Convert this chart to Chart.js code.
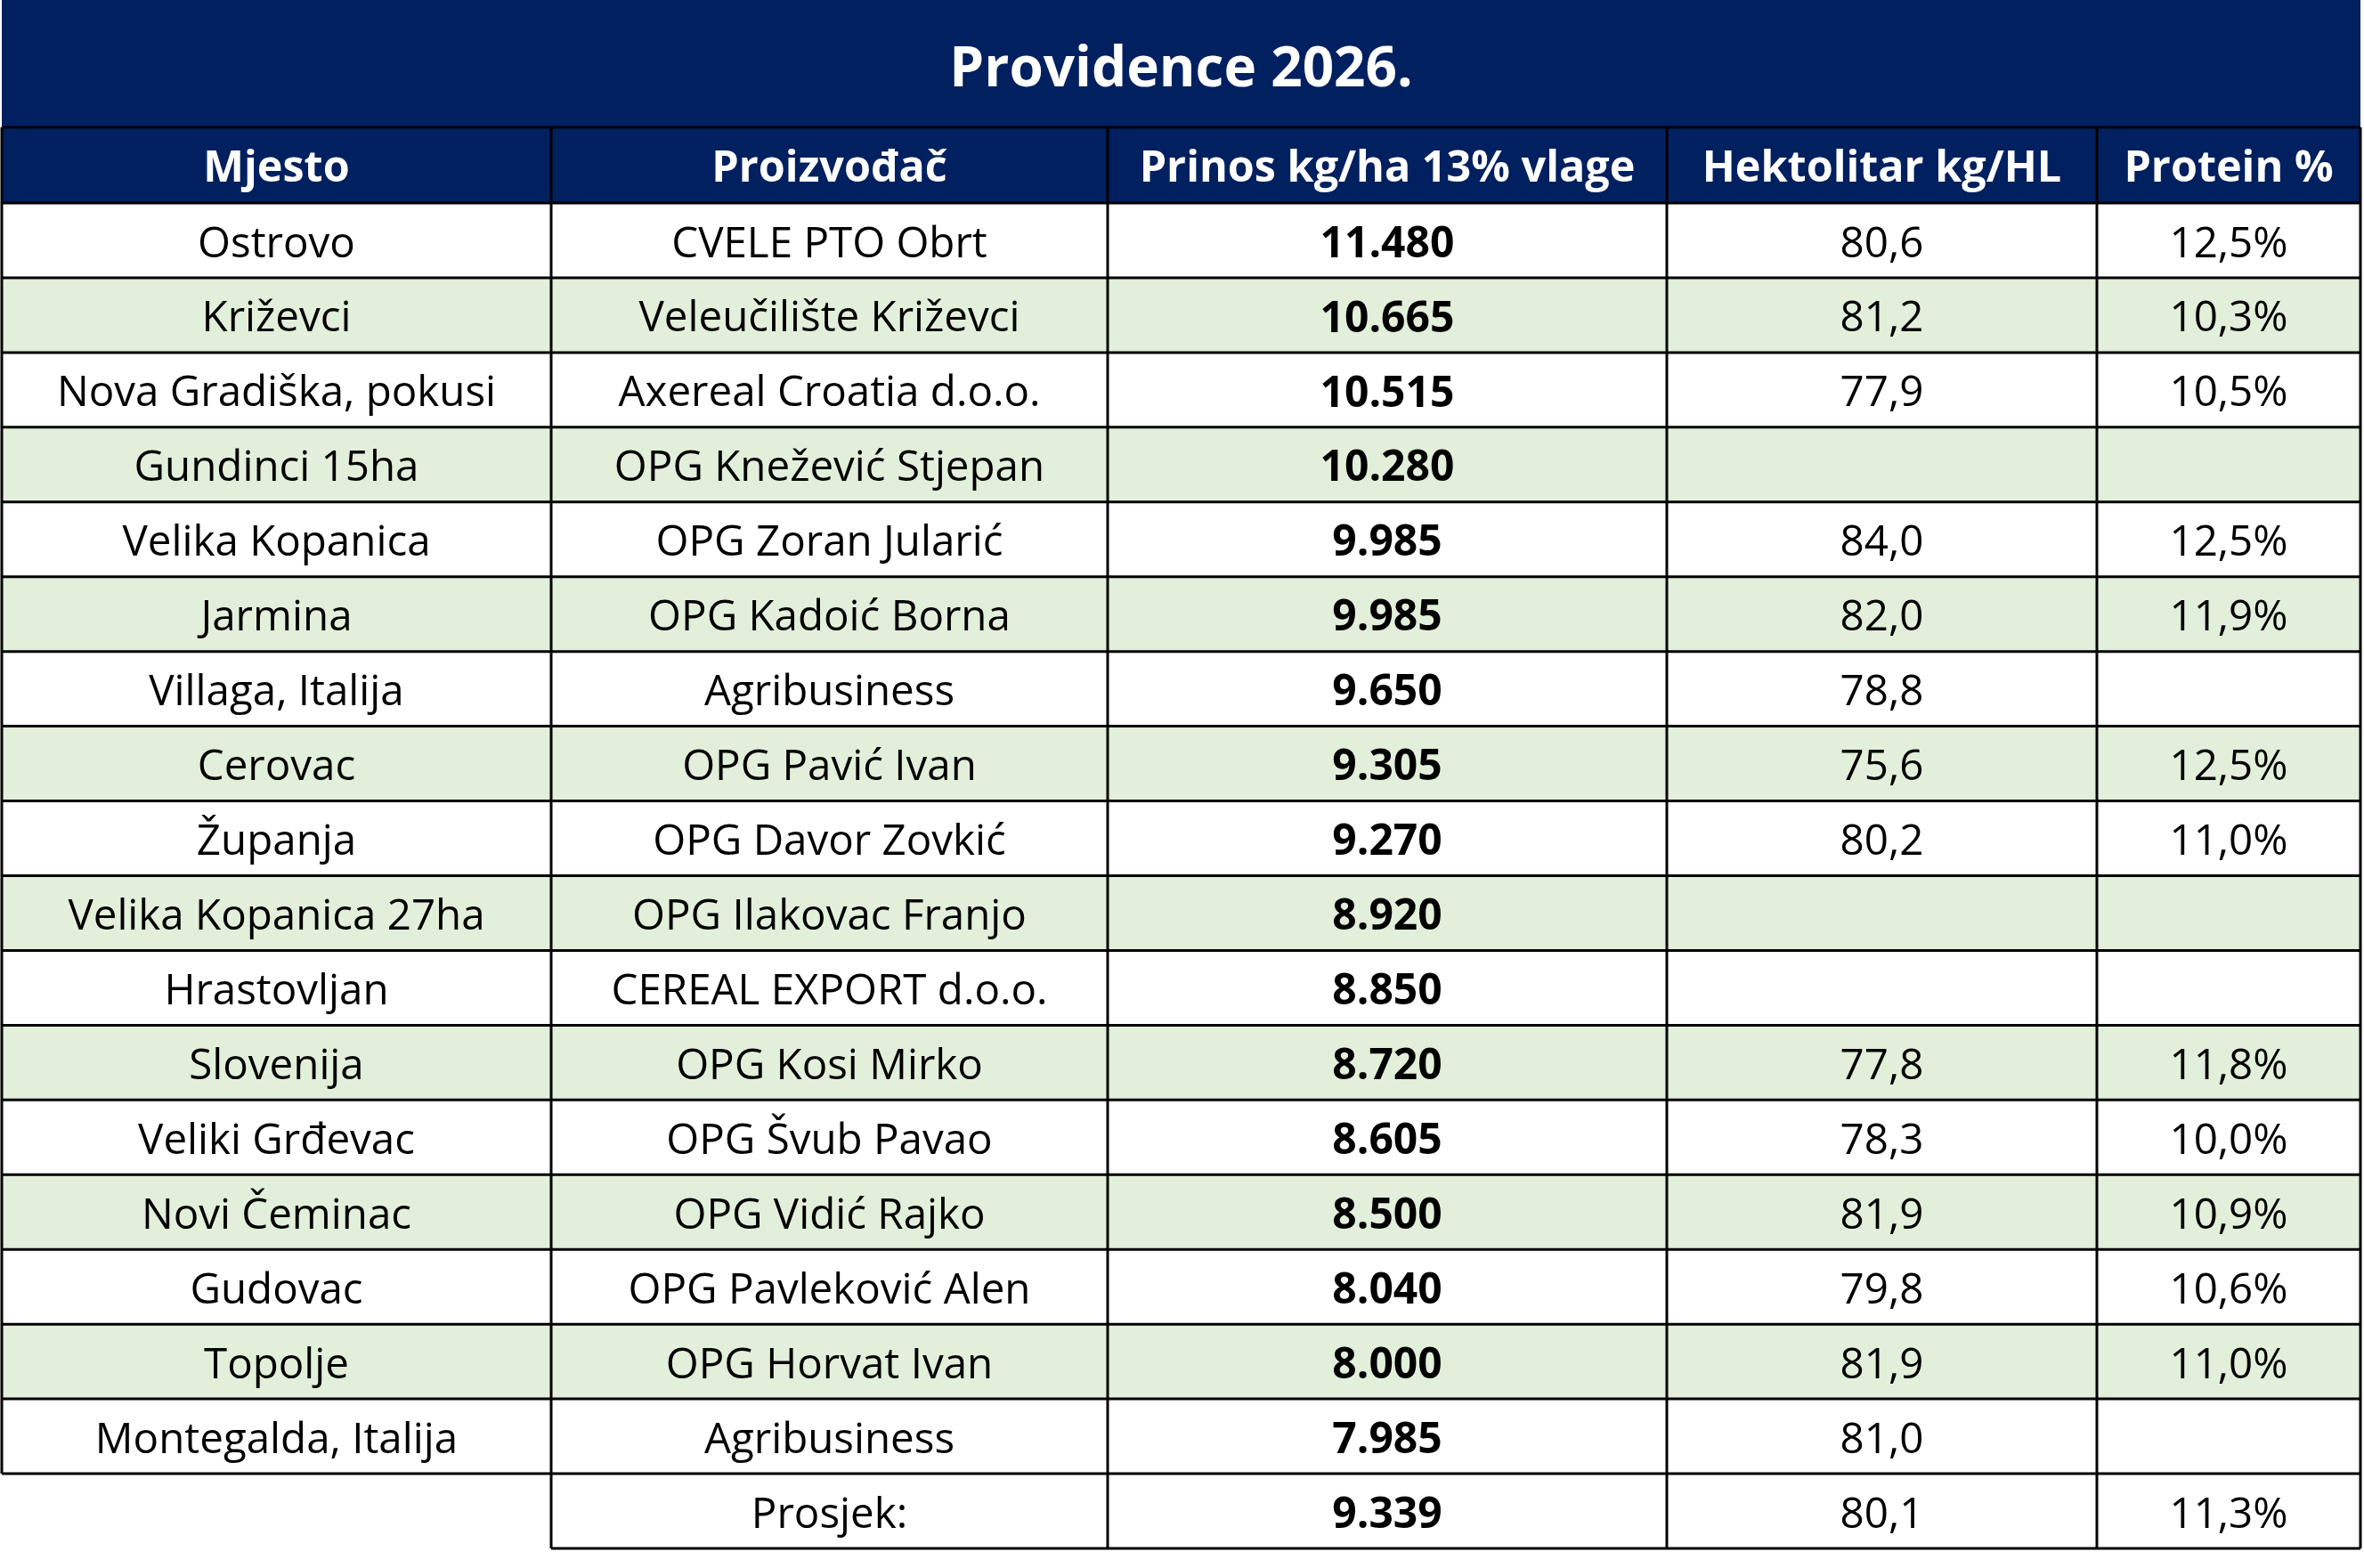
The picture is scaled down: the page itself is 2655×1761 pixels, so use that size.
<!DOCTYPE html>
<html>
<head>
<meta charset="utf-8">
<script src="https://cdn.jsdelivr.net/npm/chart.js@4.4.1/dist/chart.umd.min.js"></script>
<style>
  html, body { margin: 0; padding: 0; background: #ffffff; }
  canvas { display: block; }
</style>
</head>
<body>
<canvas id="table" width="2655" height="1761"></canvas>
<script>
const tableTitle = "Providence 2026.";
const columnHeaders = ["Mjesto", "Proizvođač", "Prinos kg/ha 13% vlage", "Hektolitar kg/HL", "Protein %"];
const places = [
  "Ostrovo", "Križevci", "Nova Gradiška, pokusi", "Gundinci 15ha", "Velika Kopanica",
  "Jarmina", "Villaga, Italija", "Cerovac", "Županja", "Velika Kopanica 27ha",
  "Hrastovljan", "Slovenija", "Veliki Grđevac", "Novi Čeminac", "Gudovac",
  "Topolje", "Montegalda, Italija"
];
const producers = [
  "CVELE PTO Obrt", "Veleučilište Križevci", "Axereal Croatia d.o.o.", "OPG Knežević Stjepan", "OPG Zoran Jularić",
  "OPG Kadoić Borna", "Agribusiness", "OPG Pavić Ivan", "OPG Davor Zovkić", "OPG Ilakovac Franjo",
  "CEREAL EXPORT d.o.o.", "OPG Kosi Mirko", "OPG Švub Pavao", "OPG Vidić Rajko", "OPG Pavleković Alen",
  "OPG Horvat Ivan", "Agribusiness"
];
const yields = [11480, 10665, 10515, 10280, 9985, 9985, 9650, 9305, 9270, 8920, 8850, 8720, 8605, 8500, 8040, 8000, 7985];
const hectoliter = [80.6, 81.2, 77.9, null, 84.0, 82.0, 78.8, 75.6, 80.2, null, null, 77.8, 78.3, 81.9, 79.8, 81.9, 81.0];
const protein = [12.5, 10.3, 10.5, null, 12.5, 11.9, null, 12.5, 11.0, null, null, 11.8, 10.0, 10.9, 10.6, 11.0, null];
const averageLabel = "Prosjek:";
const averageRow = [9339, 80.1, 11.3];

// Layout (x scale units = canvas px)
const colEdges = [2, 619, 1244, 1872, 2355, 2651];
const titleBottom = 143;
const headerBottom = 228;
const tableBottom = 1739;

const NAVY = "#002060";
const GREEN = "#E2EFDA";
const FONT = "'Open Sans', 'Noto Sans', sans-serif";

const fmtYield = (v) => v == null ? "" : v.toLocaleString("de-DE");
const fmtHl = (v) => v == null ? "" : v.toFixed(1).replace(".", ",");
const fmtPct = (v) => v == null ? "" : v.toFixed(1).replace(".", ",") + "%";

const rowLabels = places.concat([""]);

const tablePlugin = {
  id: "tableCells",
  afterDraw(chart) {
    const { ctx } = chart;
    const x = chart.scales.x;
    const y = chart.scales.y;
    const band = y.getPixelForValue(1) - y.getPixelForValue(0);
    const xe = colEdges.map((v) => x.getPixelForValue(v));
    const rowTop = (i) => y.getPixelForValue(i) - band / 2;
    const rowBottom = (i) => y.getPixelForValue(i) + band / 2;
    const colCenter = (c) => (xe[c] + xe[c + 1]) / 2;
    const top = y.getPixelForValue(-0.5) - (headerBottom - titleBottom);

    ctx.save();

    // title bar
    ctx.fillStyle = NAVY;
    ctx.fillRect(xe[0], 0, xe[5] - xe[0], top);
    ctx.fillStyle = "#ffffff";
    ctx.font = `bold 62px ${FONT}`;
    ctx.textAlign = "center";
    ctx.textBaseline = "middle";
    ctx.fillText(tableTitle, (xe[0] + xe[5]) / 2, top / 2 + 8);

    // header row
    const hTop = top;
    const hBottom = rowTop(0);
    ctx.fillStyle = NAVY;
    ctx.fillRect(xe[0], hTop, xe[5] - xe[0], hBottom - hTop);
    ctx.fillStyle = "#ffffff";
    ctx.font = `bold 48.5px ${FONT}`;
    columnHeaders.forEach((h, c) => ctx.fillText(h, colCenter(c), (hTop + hBottom) / 2 + 5));

    // data rows backgrounds
    places.forEach((_, i) => {
      if (i % 2 === 1) {
        ctx.fillStyle = GREEN;
        ctx.fillRect(xe[0], rowTop(i), xe[5] - xe[0], band);
      }
    });

    // data text
    places.forEach((p, i) => {
      const cy = y.getPixelForValue(i) + 5;
      const cells = [p, producers[i], fmtYield(yields[i]), fmtHl(hectoliter[i]), fmtPct(protein[i])];
      cells.forEach((t, c) => {
        ctx.fillStyle = "#000000";
        ctx.font = c === 2 ? `bold 48px ${FONT}` : `47.5px ${FONT}`;
        ctx.fillText(t, colCenter(c), cy);
      });
    });

    // average row
    const ai = places.length;
    const acy = y.getPixelForValue(ai) + 5;
    ctx.fillStyle = "#000000";
    ctx.font = `47.5px ${FONT}`;
    ctx.fillText(averageLabel, colCenter(1), acy);
    ctx.font = `bold 48px ${FONT}`;
    ctx.fillText(fmtYield(averageRow[0]), colCenter(2), acy);
    ctx.font = `47.5px ${FONT}`;
    ctx.fillText(fmtHl(averageRow[1]), colCenter(3), acy);
    ctx.fillText(fmtPct(averageRow[2]), colCenter(4), acy);

    // grid lines
    ctx.strokeStyle = "#000000";
    ctx.lineWidth = 3;
    ctx.beginPath();
    ctx.moveTo(xe[0], hTop); ctx.lineTo(xe[5], hTop);
    for (let i = 0; i <= places.length; i++) {
      const yy = rowTop(i);
      ctx.moveTo(xe[0], yy); ctx.lineTo(xe[5], yy);
    }
    const bottom = rowBottom(ai);
    ctx.moveTo(xe[1], bottom); ctx.lineTo(xe[5], bottom);
    const lastFull = rowBottom(ai - 1);
    colEdges.forEach((_, c) => {
      ctx.moveTo(xe[c], hTop);
      ctx.lineTo(xe[c], c === 0 ? lastFull : bottom);
    });
    ctx.stroke();

    ctx.restore();
  }
};

new Chart(document.getElementById("table"), {
  type: "bar",
  data: {
    labels: rowLabels,
    datasets: [{
      label: "Prinos",
      data: [],
      backgroundColor: "rgba(0,0,0,0)"
    }]
  },
  options: {
    indexAxis: "y",
    responsive: false,
    devicePixelRatio: 1,
    animation: false,
    layout: {
      padding: { top: headerBottom, bottom: 1761 - tableBottom, left: 0, right: 0 }
    },
    plugins: {
      legend: { display: false },
      tooltip: { enabled: false }
    },
    scales: {
      x: { type: "linear", min: 0, max: 2655, display: false },
      y: { type: "category", offset: true, display: false, grid: { display: false } }
    }
  },
  plugins: [tablePlugin]
});
</script>
</body>
</html>
